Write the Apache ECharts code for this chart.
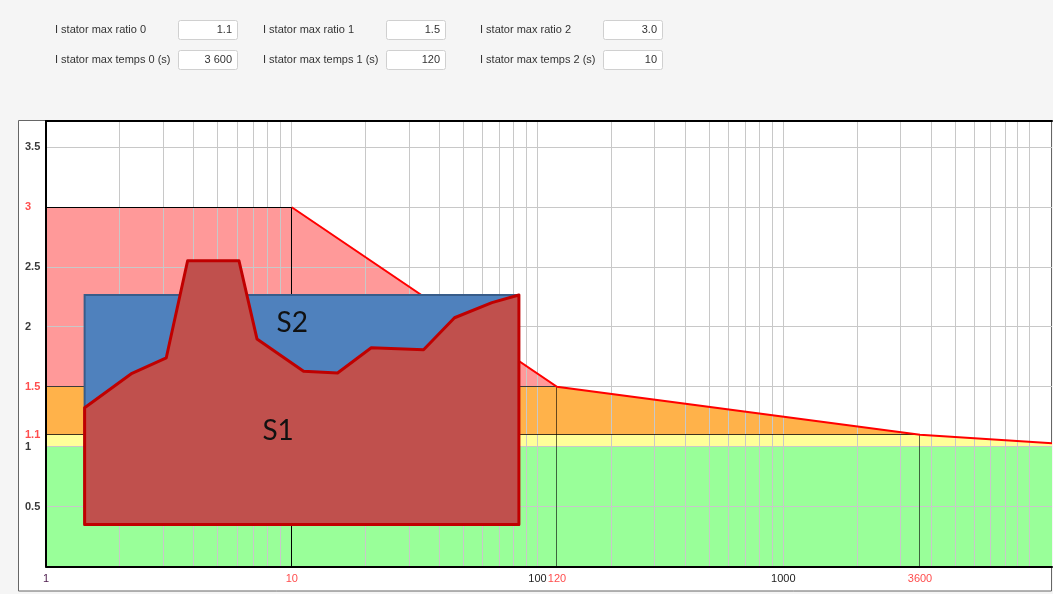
<!DOCTYPE html>
<html>
<head>
<meta charset="utf-8">
<script src="https://cdn.jsdelivr.net/npm/echarts@6/dist/echarts.min.js"></script>
<style>
  html, body { margin: 0; padding: 0; background: #f5f5f5; }
  #chart { width: 1053px; height: 594px; }
</style>
</head>
<body>
<div id="chart"></div>
<script>
// Threshold settings (form fields above the plot)
const ratioLabels = ['I stator max ratio 0', 'I stator max ratio 1', 'I stator max ratio 2'];
const tempsLabels = ['I stator max temps 0 (s)', 'I stator max temps 1 (s)', 'I stator max temps 2 (s)'];
const ratioValues = [1.1, 1.5, 3.0];
const tempsValues = [3600, 120, 10];

// Axis ranges and tick labels
const xMin = 1, xMax = 12400;
const yMin = 0, yMax = 3.72;
const xTickLabels = [1, 10, 100, 120, 1000, 3600];
const yTickLabels = [0.5, 1, 1.1, 1.5, 2, 2.5, 3, 3.5];
const nominalRatio = 1.0;
const tailRatio = 1.03;          // limit curve value at the right edge

// S1 load profile (time in s, ratio)
const s1Time  = [1.436, 2.238, 3.086, 3.769, 6.099, 7.219, 11.17, 15.36, 21.06, 34.38, 45.95, 65.24, 84.0];
const s1Ratio = [1.326, 1.613, 1.743, 2.553, 2.553, 1.900, 1.630, 1.616, 1.827, 1.810, 2.077, 2.203, 2.267];
const sBase = 0.35;
// S2 envelope
const s2Time = [1.436, 84.0];
const s2Ratio = 2.267;
// Label anchors
const s1LabelAt = [8.8, 1.134];
const s2LabelAt = [10.05, 2.033];

const [r0, r1, r2] = ratioValues;
const [t0, t1, t2] = tempsValues;

// Zones bounded by the limit curve
const zones = [
  { fill: '#99ff99', pts: [[xMin, yMin], [xMin, nominalRatio], [xMax, nominalRatio], [xMax, yMin]] },
  { fill: '#ffff99', pts: [[xMin, nominalRatio], [xMin, r0], [t0, r0], [xMax, tailRatio], [xMax, nominalRatio]] },
  { fill: '#ffb24a', pts: [[xMin, r0], [xMin, r1], [t1, r1], [t0, r0]] },
  { fill: '#ff9999', pts: [[xMin, r1], [xMin, r2], [t2, r2], [t1, r1]] }
];
const limitCurve = [[t2, r2], [t1, r1], [t0, r0], [xMax, tailRatio]];

// Minor log grid positions (1..9 per decade) and horizontal grid
const gridX = [];
for (let k = 0; k <= 4; k++) {
  for (let n = 1; n <= 9; n++) {
    const v = n * Math.pow(10, k);
    if (v > xMin && v < xMax) gridX.push(v);
  }
}
const gridY = [0.5, 1, 1.5, 2, 2.5, 3, 3.5];

const crisp = (v) => Math.round(v - 0.5) + 0.5;

function layer(name, z, build) {
  return {
    type: 'custom', name: name, z: z, silent: true,
    coordinateSystem: 'cartesian2d',
    data: [[xMin, yMin]],
    renderItem: (params, api) => ({ type: 'group', children: build(api) })
  };
}
function poly(api, pts, style) {
  return { type: 'polygon', shape: { points: pts.map(p => api.coord(p)) }, style: style };
}
function vline(api, x, y1, y2, stroke, w) {
  const a = api.coord([x, y1]), b = api.coord([x, y2]);
  const px = crisp(a[0]);
  return { type: 'line', shape: { x1: px, y1: a[1], x2: px, y2: b[1] }, style: { stroke: stroke, lineWidth: w } };
}
function hline(api, y, x1, x2, stroke, w) {
  const a = api.coord([x1, y]), b = api.coord([x2, y]);
  const py = crisp(a[1]);
  return { type: 'line', shape: { x1: a[0], y1: py, x2: b[0], y2: py }, style: { stroke: stroke, lineWidth: w } };
}

const fmtTemps = (v) => String(v).replace(/\B(?=(\d{3})+(?!\d))/g, ' ');

// Form graphics
const formFont = '11px "Liberation Sans", Arial, sans-serif';
const colLabelX = [55, 263, 480];
const colBoxX = [178, 386, 603];
const rowY = [29.5, 60];
const formItems = [];
[ratioLabels, tempsLabels].forEach((labels, row) => {
  labels.forEach((lab, i) => {
    const val = row === 0 ? ratioValues[i].toFixed(1) : fmtTemps(tempsValues[i]);
    formItems.push({
      type: 'text', x: colLabelX[i], y: rowY[row],
      style: { text: lab, fill: '#333', font: formFont, align: 'left', verticalAlign: 'middle' }
    });
    formItems.push({
      type: 'rect', shape: { x: colBoxX[i] + 0.5, y: Math.round(rowY[row]) - 9.5, width: 59, height: 19, r: 2 },
      style: { fill: '#fff', stroke: '#d0d0d0', lineWidth: 1 }
    });
    formItems.push({
      type: 'text', x: colBoxX[i] + 54, y: rowY[row],
      style: { text: val, fill: '#333', font: formFont, align: 'right', verticalAlign: 'middle' }
    });
  });
});

const redLabel = '#ff4d4d';
const isThresholdX = (v) => tempsValues.indexOf(v) >= 0;
const isThresholdY = (v) => ratioValues.some(r => Math.abs(r - v) < 1e-9);

const chart = echarts.init(document.getElementById('chart'), null, { renderer: 'canvas' });
chart.setOption({
  animation: false,
  backgroundColor: '#f5f5f5',
  graphic: [
    { type: 'rect', z: -10, shape: { x: 18.5, y: 120.5, width: 1033, height: 470.5 },
      style: { fill: '#ffffff', stroke: '#666', lineWidth: 1 } }
  ].concat(formItems),
  grid: { left: 46, top: 121, width: 1006, height: 445.5, containLabel: false },
  xAxis: [
    {
      type: 'log', logBase: 10, min: xMin, max: xMax, z: 10,
      axisLine: { onZero: false, lineStyle: { color: '#000', width: 2 } },
      axisTick: { show: false },
      splitLine: { show: false },
      minorSplitLine: { show: false },
      axisLabel: {
        customValues: xTickLabels,
        margin: 7,
        fontSize: 11,
        fontFamily: '"Liberation Sans", Arial, sans-serif',
        formatter: (v) => {
          const n = Math.round(v);
          if (n === 1) return '{p|1}';
          return (isThresholdX(n) ? '{r|' : '{d|') + n + '}';
        },
        rich: {
          p: { color: '#4b1a4b', fontSize: 11 },
          r: { color: redLabel, fontSize: 11 },
          d: { color: '#222', fontSize: 11 }
        }
      }
    },
    {
      type: 'log', logBase: 10, min: xMin, max: xMax, position: 'top', z: 10,
      axisLine: { onZero: false, lineStyle: { color: '#000', width: 2 } },
      axisTick: { show: false }, axisLabel: { show: false }, splitLine: { show: false }
    }
  ],
  yAxis: {
    type: 'value', min: yMin, max: yMax, z: 10,
    axisLine: { onZero: false, lineStyle: { color: '#000', width: 2 } },
    axisTick: { show: false },
    splitLine: { show: false },
    axisLabel: {
      customValues: yTickLabels,
      align: 'left',
      margin: 21,
      fontSize: 11,
      fontWeight: 'bold',
      fontFamily: '"Liberation Sans", Arial, sans-serif',
      formatter: (v) => (isThresholdY(v) ? '{r|' : '{d|') + v + '}',
      rich: {
        r: { color: redLabel, fontSize: 11, fontWeight: 'bold' },
        d: { color: '#3a3a3a', fontSize: 11, fontWeight: 'bold' }
      }
    }
  },
  series: [
    layer('zones', 1, (api) => zones.map(zn => poly(api, zn.pts, { fill: zn.fill }))),
    layer('grid', 2, (api) => {
      const c = [];
      gridX.forEach(v => c.push(vline(api, v, yMin, yMax, '#c8c8c8', 1)));
      gridY.forEach(v => c.push(hline(api, v, xMin, xMax, '#c8c8c8', 1)));
      return c;
    }),
    layer('limits', 3, (api) => [
      hline(api, r2, xMin, t2, '#000', 1),
      hline(api, r1, xMin, t1, 'rgba(0,0,0,0.7)', 1),
      hline(api, r0, xMin, t0, 'rgba(0,0,0,0.75)', 1),
      vline(api, t2, yMin, r2, '#000', 1),
      vline(api, t1, yMin, r1, 'rgba(0,0,0,0.6)', 1),
      vline(api, t0, yMin, r0, 'rgba(0,0,0,0.6)', 1),
      { type: 'polyline', shape: { points: limitCurve.map(p => api.coord(p)) },
        style: { stroke: '#ff0000', lineWidth: 2, fill: null } }
    ]),
    layer('S2', 4, (api) => [
      poly(api, [[s2Time[0], sBase], [s2Time[0], s2Ratio], [s2Time[1], s2Ratio], [s2Time[1], sBase]],
        { fill: '#4f81bd', stroke: '#385d8a', lineWidth: 2 })
    ]),
    layer('S1', 5, (api) => {
      const pts = s1Time.map((t, i) => [t, s1Ratio[i]]);
      pts.push([s1Time[s1Time.length - 1], sBase], [s1Time[0], sBase]);
      return [poly(api, pts, { fill: '#c0504d', stroke: '#c00000', lineWidth: 3, lineJoin: 'round' })];
    }),
    layer('labels', 6, (api) => {
      const a = api.coord(s1LabelAt), b = api.coord(s2LabelAt);
      const font = '28px Lato, "Open Sans", sans-serif';
      return [
        { type: 'text', x: a[0], y: a[1], style: { text: 'S1', fill: '#111', font: font, align: 'center', verticalAlign: 'middle' } },
        { type: 'text', x: b[0], y: b[1], style: { text: 'S2', fill: '#111', font: font, align: 'center', verticalAlign: 'middle' } }
      ];
    })
  ]
});
</script>
</body>
</html>
